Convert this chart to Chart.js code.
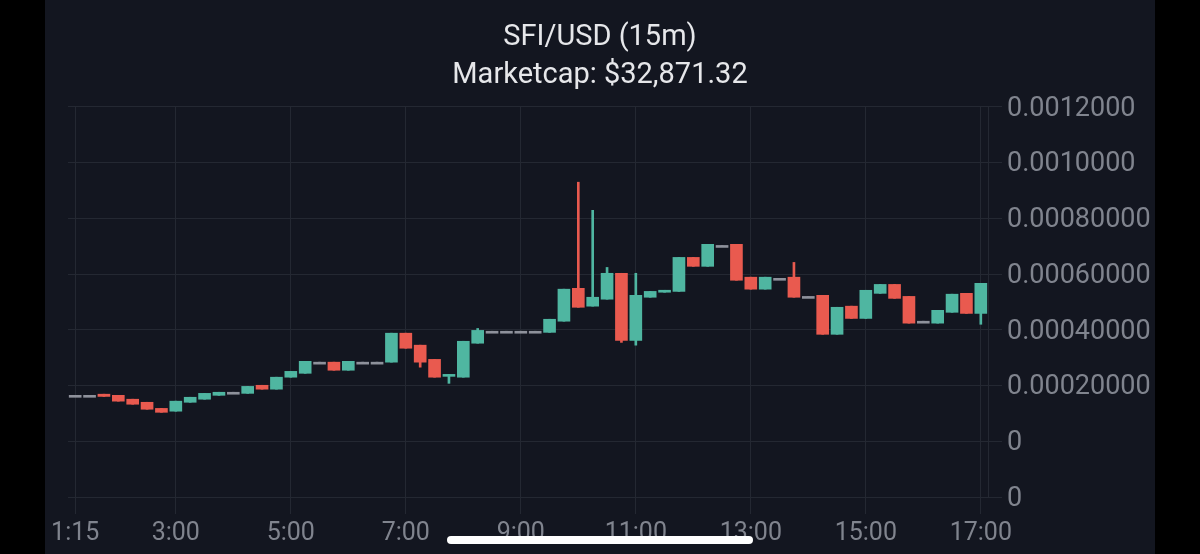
<!DOCTYPE html>
<html>
<head>
<meta charset="utf-8">
<script src="https://cdn.jsdelivr.net/npm/chart.js@4.4.1/dist/chart.umd.min.js"></script>
<style>
  html, body { margin: 0; padding: 0; background: #000; width: 1200px; height: 554px; overflow: hidden; }
  #wrap { position: absolute; left: 45px; top: 0; width: 1110px; height: 554px; background: #131620; }
  #home { position: absolute; left: 447px; top: 536px; width: 306px; height: 8px; border-radius: 4px; background: #fff; z-index: 5; }
</style>
</head>
<body>
<div id="wrap"><canvas id="c"></canvas></div>
<div id="home"></div>
<script>
const titleLines = ['SFI/USD (15m)', 'Marketcap: $32,871.32'];

const times = [
  '1:15','1:30','1:45','2:00','2:15','2:30','2:45','3:00',
  '3:15','3:30','3:45','4:00','4:15','4:30','4:45','5:00',
  '5:15','5:30','5:45','6:00','6:15','6:30','6:45','7:00',
  '7:15','7:30','7:45','8:00','8:15','8:30','8:45','9:00',
  '9:15','9:30','9:45','10:00','10:15','10:30','10:45','11:00',
  '11:15','11:30','11:45','12:00','12:15','12:30','12:45','13:00',
  '13:15','13:30','13:45','14:00','14:15','14:30','14:45','15:00',
  '15:15','15:30','15:45','16:00','16:15','16:30','16:45','17:00'
];

const xTickLabels = ['1:15','3:00','5:00','7:00','9:00','11:00','13:00','15:00','17:00'];

const openVals = [
  0.000165,0.000165,0.000169,0.000165,0.000151,0.000140,0.000118,0.000108,
  0.000140,0.000151,0.000165,0.000176,0.000172,0.000201,0.000187,0.000230,
  0.000244,0.000284,0.000284,0.000255,0.000284,0.000284,0.000284,0.000388,
  0.000345,0.000294,0.000233,0.000230,0.000352,0.000395,0.000395,0.000395,
  0.000395,0.000391,0.000431,0.000549,0.000485,0.000510,0.000603,0.000362,
  0.000517,0.000535,0.000538,0.000660,0.000628,0.000703,0.000707,0.000589,
  0.000546,0.000585,0.000589,0.000520,0.000524,0.000384,0.000485,0.000441,
  0.000531,0.000563,0.000520,0.000431,0.000424,0.000463,0.000531,0.000459
];
const closeVals = [
  0.000165,0.000165,0.000161,0.000144,0.000133,0.000115,0.000104,0.000144,
  0.000158,0.000172,0.000176,0.000176,0.000197,0.000187,0.000230,0.000251,
  0.000287,0.000284,0.000255,0.000287,0.000284,0.000284,0.000388,0.000334,
  0.000284,0.000230,0.000240,0.000359,0.000398,0.000395,0.000395,0.000395,
  0.000395,0.000438,0.000546,0.000481,0.000517,0.000603,0.000362,0.000524,
  0.000538,0.000542,0.000660,0.000628,0.000707,0.000703,0.000578,0.000546,
  0.000589,0.000585,0.000517,0.000520,0.000384,0.000481,0.000441,0.000542,
  0.000563,0.000513,0.000424,0.000431,0.000470,0.000528,0.000459,0.000567
];
const highVals = [
  0.000165,0.000165,0.000169,0.000165,0.000151,0.000140,0.000118,0.000144,
  0.000158,0.000172,0.000176,0.000176,0.000197,0.000201,0.000230,0.000251,
  0.000287,0.000284,0.000284,0.000287,0.000284,0.000284,0.000388,0.000388,
  0.000345,0.000294,0.000240,0.000359,0.000405,0.000395,0.000395,0.000395,
  0.000395,0.000438,0.000546,0.000930,0.000829,0.000624,0.000603,0.000603,
  0.000538,0.000542,0.000660,0.000660,0.000707,0.000703,0.000707,0.000589,
  0.000589,0.000585,0.000642,0.000520,0.000524,0.000481,0.000485,0.000542,
  0.000563,0.000563,0.000520,0.000431,0.000470,0.000528,0.000531,0.000567
];
const lowVals = [
  0.000165,0.000165,0.000161,0.000144,0.000133,0.000115,0.000104,0.000108,
  0.000140,0.000151,0.000165,0.000176,0.000172,0.000187,0.000187,0.000230,
  0.000244,0.000284,0.000255,0.000255,0.000284,0.000284,0.000284,0.000334,
  0.000266,0.000230,0.000208,0.000230,0.000352,0.000395,0.000395,0.000395,
  0.000395,0.000391,0.000431,0.000481,0.000485,0.000510,0.000355,0.000345,
  0.000517,0.000535,0.000538,0.000628,0.000628,0.000703,0.000578,0.000546,
  0.000546,0.000585,0.000517,0.000520,0.000384,0.000384,0.000441,0.000441,
  0.000531,0.000513,0.000424,0.000431,0.000424,0.000463,0.000459,0.000420
];

const UP = '#4fb6a1', DOWN = '#e95a4f', FLAT = '#8e919b';
const GRID = '#242832', TICK = '#80848e';

const colorFor = i => closeVals[i] > openVals[i] ? UP : (closeVals[i] < openVals[i] ? DOWN : FLAT);
const bodies = times.map((t, i) => [openVals[i], closeVals[i]]);
const wicks = times.map((t, i) => [lowVals[i], highVals[i]]);
const colors = times.map((t, i) => colorFor(i));

new Chart(document.getElementById('c'), {
  type: 'bar',
  data: {
    labels: times,
    datasets: [
      { data: bodies, backgroundColor: colors, borderWidth: 0, barThickness: 12, minBarLength: 2, grouped: false },
      { data: wicks, backgroundColor: colors, borderWidth: 0, barThickness: 2, grouped: false }
    ]
  },
  options: {
    responsive: true,
    maintainAspectRatio: false,
    animation: false,
    layout: { padding: 0 },
    plugins: {
      legend: { display: false },
      tooltip: { enabled: false },
      title: {
        display: true,
        text: titleLines,
        color: '#e6e7ea',
        font: { family: 'Roboto', size: 29, weight: 'normal', lineHeight: 1.31 },
        padding: { top: 18.5, bottom: 12.5 }
      }
    },
    scales: {
      x: {
        type: 'category',
        offset: true,
        afterBuildTicks: s => { s.ticks = times.map((t, i) => ({ value: i })).filter(o => xTickLabels.includes(times[o.value])); },
        afterFit: s => { s.height = 57; },
        grid: { color: GRID, offset: false, tickLength: 17, drawTicks: true },
        border: { display: false },
        ticks: { color: TICK, autoSkip: false, maxRotation: 0, padding: 5, font: { family: 'Roboto', size: 25 } }
      },
      y: {
        position: 'right',
        min: -0.0002,
        max: 0.0012,
        afterFit: s => { s.width = 167; },
        grid: { color: GRID, tickLength: 14 },
        border: { display: true, color: GRID },
        ticks: {
          stepSize: 0.0002,
          color: TICK,
          padding: 5,
          labelOffset: 2,
          font: { family: 'Roboto', size: 27 },
          callback: v => (v <= 1e-12 ? '0' : Number(v).toPrecision(5))
        }
      },
      yLeft: {
        position: 'left',
        display: true,
        min: -0.0002,
        max: 0.0012,
        afterFit: s => { s.width = 23; },
        grid: { display: false, drawOnChartArea: false },
        border: { display: false },
        ticks: { display: false }
      }
    }
  }
});
</script>
</body>
</html>
